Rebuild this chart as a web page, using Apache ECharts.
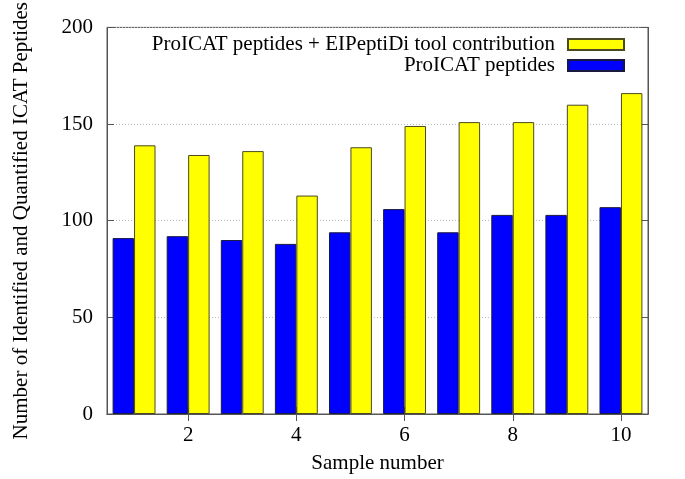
<!DOCTYPE html>
<html>
<head>
<meta charset="utf-8">
<script src="https://cdn.jsdelivr.net/npm/echarts@6/dist/echarts.min.js"></script>
<style>html,body{margin:0;padding:0;background:#fff}#c{width:685px;height:479px}</style>
</head>
<body>
<div id="c"></div>
<script>
const samples = ['1','2','3','4','5','6','7','8','9','10'];
const proicat = [91, 92, 90, 88, 94, 106, 94, 103, 103, 107];
const combined = [139, 134, 136, 113, 138, 149, 151, 151, 160, 166];
const nameBlue = 'ProICAT peptides';
const nameYellow = 'ProICAT peptides + EIPeptiDi tool contribution';
const yTicks = { min: 0, max: 200, interval: 50 };

const FONT = 'Liberation Serif';
const chart = echarts.init(document.getElementById('c'), null, {renderer: 'canvas'});
const showEven = (i) => i % 2 === 1;
chart.setOption({
  animation: false,
  textStyle: { fontFamily: FONT, color: '#000' },
  grid: { left: 107, right: 37, top: 24, bottom: 63, show: true, borderColor: '#555', borderWidth: 1, backgroundColor: 'transparent' },
  legend: {
    orient: 'vertical', align: 'right', right: 55, top: 29,
    itemWidth: 56, itemHeight: 11, itemGap: 0, icon: 'rect',
    data: [nameYellow, nameBlue],
    textStyle: { fontFamily: FONT, fontSize: 21, color: '#000', lineHeight: 20, padding: [0, 8, 0, 0] }
  },
  xAxis: [{
    type: 'category', data: samples, boundaryGap: true,
    name: 'Sample number', nameLocation: 'middle', nameGap: 39,
    nameTextStyle: { fontFamily: FONT, fontSize: 21, color: '#000' },
    axisLine: { show: true, lineStyle: { color: '#555' } },
    axisTick: { show: true, inside: true, length: 7, alignWithLabel: true, interval: showEven, lineStyle: { color: '#555' } },
    axisLabel: { interval: showEven, fontFamily: FONT, fontSize: 21, color: '#000', margin: 11 },
    splitLine: { show: false }
  }, {
    type: 'category', data: samples, position: 'top', boundaryGap: true,
    axisLine: { show: true, lineStyle: { color: '#555' } },
    axisTick: { show: true, inside: true, length: 7, alignWithLabel: true, interval: showEven, lineStyle: { color: '#555' } },
    axisLabel: { show: false }, splitLine: { show: false }
  }],
  yAxis: [{
    type: 'value', min: yTicks.min, max: yTicks.max, interval: yTicks.interval,
    name: 'Number of Identified and Quantified ICAT Peptides', nameLocation: 'middle', nameGap: 75,
    nameTextStyle: { fontFamily: FONT, fontSize: 21, color: '#000' },
    axisLine: { show: true, lineStyle: { color: '#555' } },
    axisTick: { show: true, inside: true, length: 7, lineStyle: { color: '#555' } },
    axisLabel: { fontFamily: FONT, fontSize: 21, color: '#000', margin: 14 },
    splitLine: { show: true, lineStyle: { color: '#bbb', type: [1, 2], width: 1 } }
  }, {
    type: 'value', min: yTicks.min, max: yTicks.max, interval: yTicks.interval, position: 'right',
    axisLine: { show: true, lineStyle: { color: '#555' } },
    axisTick: { show: true, inside: true, length: 7, lineStyle: { color: '#555' } },
    axisLabel: { show: false }, splitLine: { show: false }
  }],
  series: [{
    name: nameBlue, type: 'bar', data: proicat, barGap: '0%', barCategoryGap: '20.7%',
    itemStyle: { color: '#0000ff', borderColor: '#1a1a40', borderWidth: 1 }
  }, {
    name: nameYellow, type: 'bar', data: combined, barGap: '0%', barCategoryGap: '20.7%',
    itemStyle: { color: '#ffff00', borderColor: '#4a4a20', borderWidth: 1 }
  }]
});
</script>
</body>
</html>
